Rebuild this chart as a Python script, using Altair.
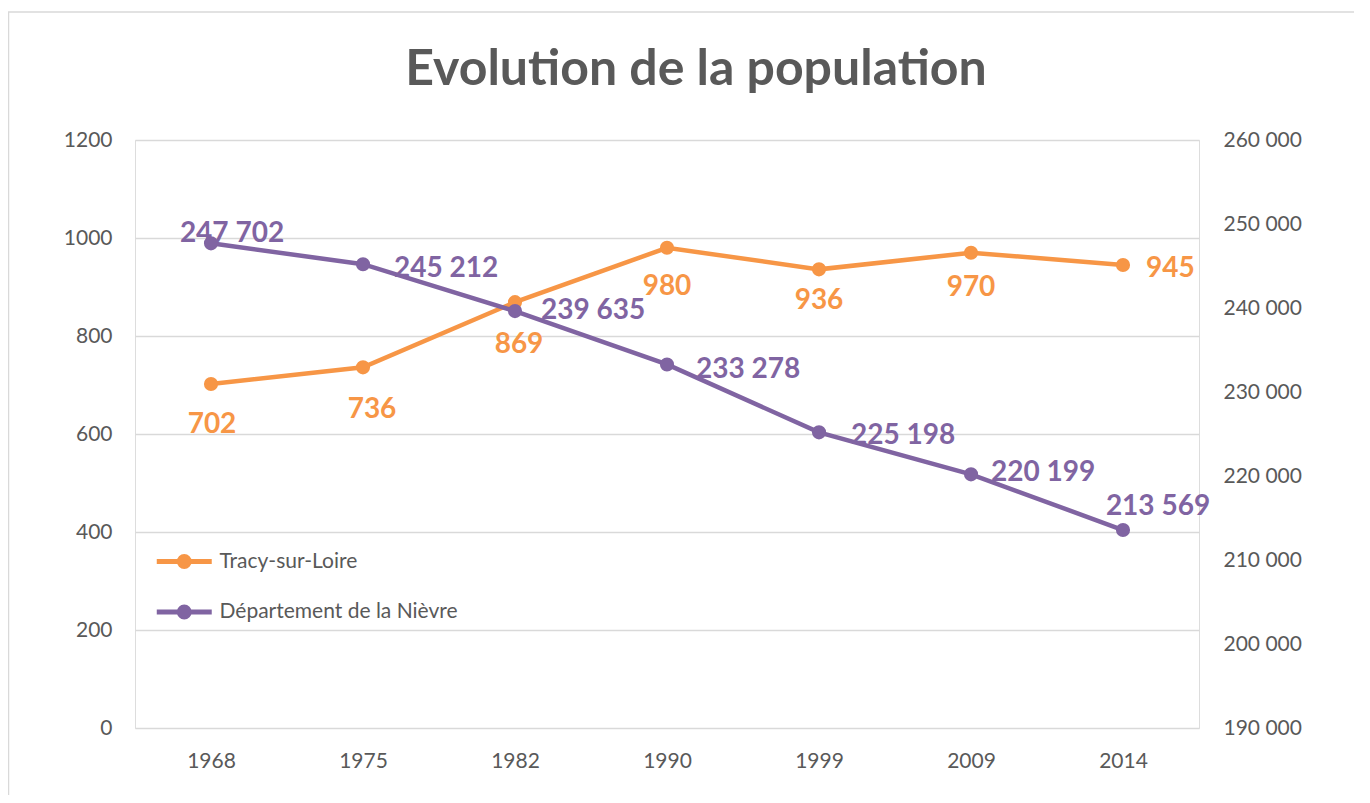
import altair as alt
import pandas as pd

years = ["1968", "1975", "1982", "1990", "1999", "2009", "2014"]
tracy = [702, 736, 869, 980, 936, 970, 945]
nievre = [247702, 245212, 239635, 233278, 225198, 220199, 213569]
series_names = ["Tracy-sur-Loire", "Département de la Nièvre"]
left_ticks = [0, 200, 400, 600, 800, 1000, 1200]
right_ticks = [190000, 200000, 210000, 220000, 230000, 240000, 250000, 260000]

ORANGE = "#F79646"
PURPLE = "#8064A2"
GREY = "#595959"
GRID = "#D9D9D9"
FONT = "Lato"

# label placement (style): year -> (dx, dy, align)
tracy_place = {
    "1968": (1, 41, "center"), "1975": (9, 43, "center"), "1982": (4, 43, "center"),
    "1990": (0, 39, "center"), "1999": (0, 32, "center"), "2009": (0, 35, "center"),
    "2014": (23, 4, "left"),
}
nievre_place = {
    "1968": (21, -9, "center"), "1975": (31, 5, "left"), "1982": (26, 0, "left"),
    "1990": (29, 6, "left"), "1999": (32, 4, "left"), "2009": (20, -1, "left"),
    "2014": (35, -23, "center"),
}

rows = []
for y, v in zip(years, tracy):
    rows.append({"year": y, "series": series_names[0], "value": v})
for y, v in zip(years, nievre):
    rows.append({"year": y, "series": series_names[1], "value": v})
df = pd.DataFrame(rows)

W, H = 1064, 588

x_enc = alt.X(
    "year:O",
    sort=years,
    scale=alt.Scale(type="point", padding=0.5),
    axis=alt.Axis(
        title=None, labelAngle=0, ticks=False, domain=False, grid=False,
        labelFont=FONT, labelFontSize=21, labelColor=GREY, labelPadding=22,
    ),
)

color_scale = alt.Scale(domain=series_names, range=[ORANGE, PURPLE])
legend_path = ("M-2,0H2 "
               "M-0.36,0A0.36,0.36 0 1,1 0.36,0A0.36,0.36 0 1,1 -0.36,0 "
               "M-0.15,0A0.15,0.15 0 1,1 0.15,0A0.15,0.15 0 1,1 -0.15,0")
legend = alt.Legend(
    title=None, orient="none", legendX=32.75, legendY=405,
    symbolType=legend_path, symbolSize=756, symbolStrokeWidth=5,
    labelFont=FONT, labelFontSize=21, labelColor=GREY, labelOffset=18.75,
    labelLimit=0, rowPadding=18.5, padding=0, direction="vertical",
)
color_enc = alt.Color("series:N", scale=color_scale, legend=legend)

base = alt.Chart(df)


def label_layers(src, place, y_enc, color, text_field):
    layers = []
    for yr, (dx, dy, align) in place.items():
        layers.append(
            src.transform_filter(alt.datum.year == yr).mark_text(
                font=FONT, fontWeight="bold", fontSize=28, color=color,
                dx=dx, dy=dy, align=align, baseline="middle",
            ).encode(x=x_enc, y=y_enc, text=text_field)
        )
    return layers


# ---- left axis: Tracy-sur-Loire
y_left = alt.Y(
    "value:Q",
    scale=alt.Scale(domain=[0, 1200], nice=False, zero=False),
    axis=alt.Axis(
        title=None, orient="left", values=left_ticks, format="d", grid=True,
        gridColor=GRID, gridWidth=1.5, domain=False, ticks=False, labelFont=FONT,
        labelFontSize=21, labelColor=GREY, labelPadding=23,
    ),
)
tb = base.transform_filter(alt.datum.series == series_names[0])
t_line = tb.mark_line(strokeWidth=4.5).encode(x=x_enc, y=y_left, color=color_enc)
t_pts = tb.mark_circle(size=200, opacity=1, color=ORANGE).encode(x=x_enc, y=y_left)
tracy_layer = alt.layer(
    t_line, t_pts, *label_layers(tb, tracy_place, y_left, ORANGE, "value:Q")
)

# ---- right axis: Nièvre
y_right = alt.Y(
    "value:Q",
    scale=alt.Scale(domain=[190000, 260000], nice=False, zero=False),
    axis=alt.Axis(
        title=None, orient="right", values=right_ticks, grid=False, domain=False,
        ticks=False, labelFont=FONT, labelFontSize=21, labelColor=GREY, labelPadding=24,
        labelExpr="replace(format(datum.value, ','), ',', ' ')",
    ),
)
nb = base.transform_filter(alt.datum.series == series_names[1]).transform_calculate(
    label="replace(format(datum.value, ','), ',', ' ')"
)
n_line = nb.mark_line(strokeWidth=4.5).encode(x=x_enc, y=y_right, color=color_enc)
n_pts = nb.mark_circle(size=200, opacity=1, color=PURPLE).encode(x=x_enc, y=y_right)
nievre_layer = alt.layer(
    n_line, n_pts, *label_layers(nb, nievre_place, y_right, PURPLE, "label:N")
)

# ---- outer chart frame (decoration)
frame = alt.Chart(pd.DataFrame({"d": [0]})).mark_rect(
    fill=None, stroke=GRID, strokeWidth=1.5, clip=False
).encode(
    x=alt.value(-126.5), x2=alt.value(1400), y=alt.value(-128), y2=alt.value(800)
)

chart = alt.layer(frame, tracy_layer, nievre_layer).resolve_scale(
    y="independent"
).properties(
    width=W,
    height=H,
    padding={"left": 127, "top": 132, "right": 155, "bottom": 67},
    autosize=alt.AutoSizeParams(type="none"),
    title=alt.TitleParams(
        "Evolution de la population", font=FONT, fontWeight="bold", fontSize=50,
        color=GREY, anchor="middle", frame="group", dx=29, offset=-124,
        baseline="alphabetic",
    ),
).configure_view(stroke=None).configure(background="white")

chart.save("out.html", embed_options={"renderer": "svg", "actions": False})
